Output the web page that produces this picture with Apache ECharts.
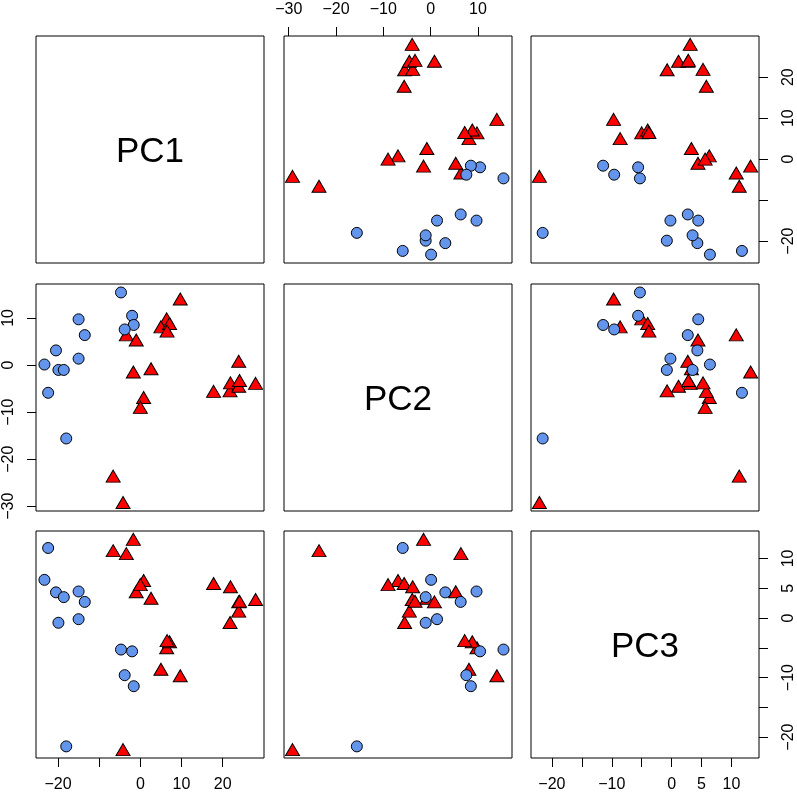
<!DOCTYPE html>
<html>
<head>
<meta charset="utf-8">
<script src="https://cdn.jsdelivr.net/npm/echarts@6/dist/echarts.min.js"></script>
<style>
  html, body { margin: 0; padding: 0; background: #fff; }
  #chart { width: 797px; height: 797px; }
</style>
</head>
<body>
<div id="chart"></div>
<script>
const varNames = ['PC1', 'PC2', 'PC3']

// red triangles
const pc1Red = [9.7, 6.4, 5.0, 7.1, 6.5, -3.4, -1.0, -1.7, 2.6, 0.8, 0.0, -6.6, -4.2, 28.0, 17.8, 21.8, 21.9, 23.9, 23.9, 24.1]
const pc2Red = [14.0, 9.8, 8.1, 8.8, 7.2, 6.4, 5.3, -1.5, -0.8, -6.9, -9.0, -23.6, -29.2, -3.9, -5.6, -5.5, -3.8, 0.8, -4.5, -3.3]
const pc3Red = [-9.7, -5.0, -8.6, -4.0, -3.8, 10.8, 4.4, 13.2, 3.3, 6.3, 5.6, 11.3, -22.1, 3.1, 5.8, -0.75, 5.25, 2.7, 1.15, 2.8]

// blue circles
const pc1Blue = [-4.7, -15.0, -13.5, -2.0, -1.6, -3.8, -20.5, -23.3, -15.0, -19.9, -18.6, -22.4, -18.0]
const pc2Blue = [15.4, 9.7, 6.35, 10.45, 8.5, 7.55, 3.1, 0.1, 1.35, -1.05, -1.05, -5.9, -15.6]
const pc3Blue = [-5.3, 4.45, 2.7, -5.6, -11.45, -9.6, 4.3, 6.4, -0.2, -0.8, 3.5, 11.75, -21.55]

const ranges = [[-25.35, 30.05], [-31.0, 17.2], [-23.5, 14.6]]
const tickValues = [[-20, -10, 0, 10, 20], [-30, -20, -10, 0, 10], [-20, -15, -10, -5, 0, 5, 10]]
const bottomLabels = { 0: [-20, 0, 10, 20], 2: [-20, -10, 0, 5, 10] }
const topLabels = { 1: [-30, -20, -10, 0, 10] }
const leftLabels = { 1: [10, 0, -10, -20, -30] }
const rightLabels = { 0: [20, 10, 0, -20], 2: [10, 5, 0, -10, -20] }

const redVals = [pc1Red, pc2Red, pc3Red]
const blueVals = [pc1Blue, pc2Blue, pc3Blue]

const font = '"Liberation Sans", Arial, Helvetica, sans-serif'
const lefts = [36, 284, 531]
const tops = [36, 284, 531]
const W = 228
const H = 227

const fmt = function (v) {
  return v < 0 ? '\u2212' + Math.abs(v) : String(v)
}

const grids = []
const xAxes = []
const yAxes = []
const series = []
const graphics = []

function axisBase(varIdx, k, labels, extra, margin) {
  const on = !!labels
  return Object.assign({
    type: 'value',
    gridIndex: k,
    min: ranges[varIdx][0],
    max: ranges[varIdx][1],
    splitLine: { show: false },
    axisLine: { show: false, onZero: false },
    axisTick: {
      show: on,
      length: 9,
      customValues: tickValues[varIdx],
      lineStyle: { color: '#000', width: 1 },
    },
    axisLabel: {
      show: on,
      customValues: labels || [],
      formatter: fmt,
      color: '#000',
      fontSize: 16,
      fontFamily: font,
      margin: margin,
    },
  }, extra)
}

for (let i = 0; i < 3; i++) {
  for (let j = 0; j < 3; j++) {
    const k = i * 3 + j
    grids.push({
      left: lefts[j],
      top: tops[i],
      width: W,
      height: H,
      show: true,
      borderColor: '#000',
      borderWidth: 1,
      backgroundColor: 'transparent',
    })

    let xLabels = null
    let xPos = 'bottom'
    let xMargin = 19
    if (i === 0 && topLabels[j]) { xLabels = topLabels[j]; xPos = 'top'; xMargin = 18 }
    if (i === 2 && bottomLabels[j]) { xLabels = bottomLabels[j] }
    xAxes.push(axisBase(j, k, xLabels, { position: xPos }, xMargin))

    let yLabels = null
    let yPos = 'left'
    let yMargin = 19
    if (j === 0 && leftLabels[i]) { yLabels = leftLabels[i] }
    if (j === 2 && rightLabels[i]) { yLabels = rightLabels[i]; yPos = 'right'; yMargin = 22 }
    const ya = axisBase(i, k, yLabels, { position: yPos }, yMargin)
    ya.axisLabel.rotate = 90
    yAxes.push(ya)

    if (i === j) {
      // diagonal: variable name in the middle of the panel
      graphics.push({
        type: 'text',
        x: lefts[j] + W / 2,
        y: tops[i] + H / 2 + 3,
        style: {
          text: varNames[i],
          fill: '#000',
          font: '35px ' + font,
          align: 'center',
          verticalAlign: 'middle',
        },
      })
      continue
    }

    const red = redVals[j].map((v, n) => [v, redVals[i][n]])
    const blue = blueVals[j].map((v, n) => [v, blueVals[i][n]])
    series.push({
      type: 'scatter',
      xAxisIndex: k,
      yAxisIndex: k,
      data: red,
      symbol: 'triangle',
      symbolSize: [14, 12],
      itemStyle: { color: '#ff0000', borderColor: '#000', borderWidth: 1, opacity: 1 },
      emphasis: { disabled: true },
      silent: true,
    })
    series.push({
      type: 'scatter',
      xAxisIndex: k,
      yAxisIndex: k,
      data: blue,
      symbol: 'circle',
      symbolSize: 11,
      itemStyle: { color: '#6495ed', borderColor: '#000', borderWidth: 1, opacity: 1 },
      emphasis: { disabled: true },
      silent: true,
    })
  }
}

const myChart = echarts.init(document.getElementById('chart'))
myChart.setOption({
  animation: false,
  backgroundColor: '#fff',
  grid: grids,
  xAxis: xAxes,
  yAxis: yAxes,
  series: series,
  graphic: graphics,
})
</script>
</body>
</html>
